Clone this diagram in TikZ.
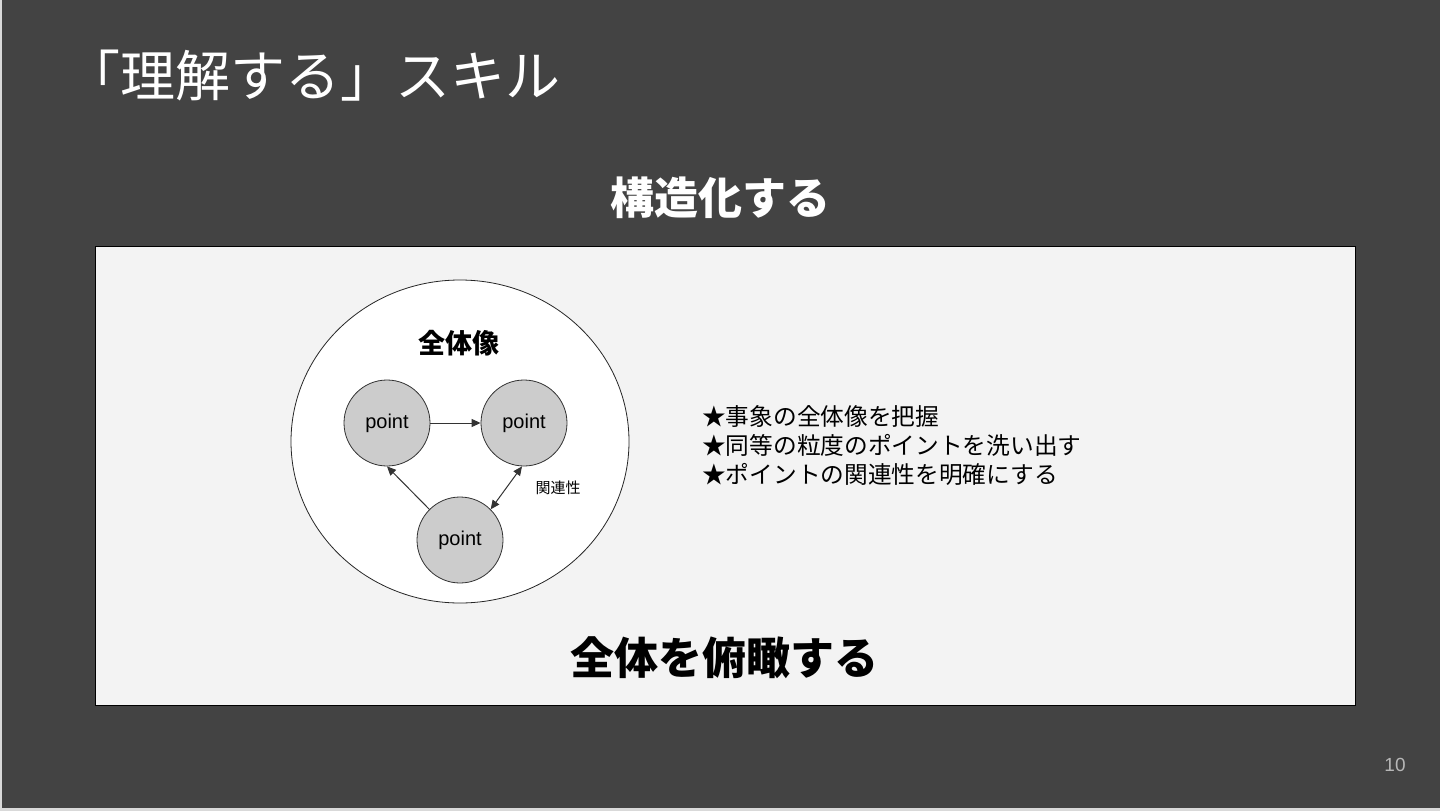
\documentclass[tikz,border=0pt]{standalone}
\usepackage{fontspec}
\setmainfont{Noto Sans CJK JP}
\newfontfamily\latinsans{Liberation Sans}
\usetikzlibrary{arrows.meta,shapes.geometric}
\definecolor{slidebg}{HTML}{434343}
\definecolor{panel}{HTML}{F3F3F3}
\definecolor{pointfill}{HTML}{CCCCCC}
\definecolor{edgegray}{HTML}{D9D9D9}
\definecolor{pagenum}{HTML}{B7B7B7}
\tikzset{
  pointnode/.style={circle, draw=black!80, line width=0.8pt, fill=pointfill, minimum size=86pt, inner sep=0pt, font=\latinsans\fontsize{20}{20}\selectfont},
  link/.style={draw=black!80, line width=1pt, -{Triangle[length=9pt,width=8pt]}},
  dlink/.style={draw=black!80, line width=1pt, {Triangle[length=9pt,width=8pt]}-{Triangle[length=9pt,width=8pt]}},
}
\begin{document}
\begin{tikzpicture}[x=1pt,y=-1pt]
\useasboundingbox (0,0) rectangle (1440,811);
\fill[slidebg] (0,0) rectangle (1440,811);
\fill[edgegray] (0,808) rectangle (1440,811);
\fill[edgegray] (0,0) rectangle (1.5,811);
% title
\node[anchor=west, text=white, font=\fontsize{55}{55}\selectfont, inner sep=0pt] (title) at (65,76) {「理解する」スキル};
\node[text=white, font=\bfseries\fontsize{44}{44}\selectfont, inner sep=0pt] (sub) at (720,198) {構造化する};
% panel
\node[draw=black, line width=0.8pt, fill=panel, minimum width=1260pt, minimum height=459pt, inner sep=0pt] (panelbox) at (725,475.5) {};
% big circle
\node[ellipse, draw=black!85, line width=0.8pt, fill=white, minimum width=338pt, minimum height=323pt, inner sep=0pt] (whole) at (460,441.5) {};
\node[font=\bfseries\fontsize{27}{27}\selectfont, inner sep=0pt] (wholelabel) at (459,343) {全体像};
% points
\node[pointnode] (pl) at (387,423) {point};
\node[pointnode] (pr) at (524,423) {point};
\node[pointnode] (pb) at (460,540) {point};
\draw[link] (pl.east) -- (pr.west);
\draw[link] (pb.135) -- (pl.south);
\draw[dlink] (pb.45) -- ([xshift=-2pt]pr.south);
\node[font=\fontsize{15}{15}\selectfont, inner sep=0pt] (rel) at (558,488) {関連性};
% bullets
\node[anchor=west, align=left, font=\fontsize{23.7}{29}\selectfont, inner sep=0pt] (bullets) at (702,446) {★事象の全体像を把握\\★同等の粒度のポイントを洗い出す\\★ポイントの関連性を明確にする};
% bottom caption
\node[font=\bfseries\fontsize{44}{44}\selectfont, inner sep=0pt] (caption) at (724,658) {全体を俯瞰する};
% page number
\node[text=pagenum, font=\latinsans\fontsize{19}{19}\selectfont, inner sep=0pt] (page) at (1395,765) {10};
\end{tikzpicture}
\end{document}
